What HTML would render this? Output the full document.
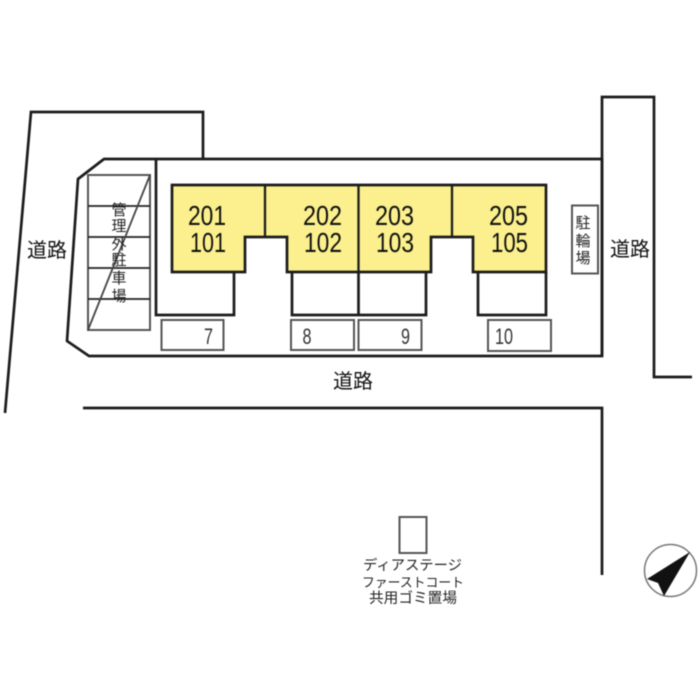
<!DOCTYPE html>
<html lang="ja">
<head>
<meta charset="utf-8">
<style>
html,body{margin:0;padding:0;background:#fff;width:700px;height:700px;overflow:hidden}
svg{display:block;filter:blur(0.4px)}
text{font-family:"Liberation Sans","Noto Sans CJK JP",sans-serif;fill:#222}
.j{font-size:20px;text-anchor:middle;fill:#111}
.k{font-size:15px;text-anchor:middle;fill:#222}
.n{font-size:28px;fill:#111}
.p{font-size:22px;fill:#333}
</style>
</head>
<body>
<svg width="700" height="700" viewBox="0 0 700 700" xmlns="http://www.w3.org/2000/svg">
<g fill="none" stroke="#1c1c1c" stroke-width="2.700">
<polyline points="5,413 31,112 203,112 203,159"/>
<polyline points="602,356 602,97 654,97 654,377 692,377"/>
<polygon points="104,159 602,159 602,356 89,356 67,341 78,179"/>
<polyline points="83,408 602,408 602,575"/>
<polyline points="156,159 156,315 234,315 234,272"/>
<polyline points="292,272 292,315 426,315 426,272"/>
<line x1="358.500" y1="272" x2="358.500" y2="315"/>
<polyline points="478,272 478,315 546,315 546,272"/>
</g>
<polygon points="172,185 546,185 546,272 473,272 473,237 431,237 431,272 287,272 287,237 245,237 245,272 172,272" fill="#fbf08d" stroke="#1c1c1c" stroke-width="2.700"/>
<g stroke="#1c1c1c" stroke-width="2.300" fill="none">
<line x1="265" y1="185" x2="265" y2="237"/>
<line x1="358.500" y1="185" x2="358.500" y2="272"/>
<line x1="452" y1="185" x2="452" y2="237"/>
</g>
<g fill="none" stroke="#555" stroke-width="2">
<rect x="88" y="175" width="62" height="155"/>
<rect x="161.500" y="320" width="62" height="30"/>
<rect x="291" y="320" width="63" height="30"/>
<rect x="358.500" y="320" width="63" height="30"/>
<rect x="488" y="320" width="63" height="31"/>
<rect x="572" y="205.500" width="26" height="68"/>
<rect x="399.500" y="517" width="27" height="36"/>
</g>
<g stroke="#222" stroke-width="1.800">
<line x1="88" y1="206" x2="150" y2="206"/>
<line x1="88" y1="237" x2="150" y2="237"/>
<line x1="88" y1="268" x2="150" y2="268"/>
<line x1="88" y1="299" x2="150" y2="299"/>
<line x1="150" y1="175" x2="88" y2="330" stroke="#444"/>
</g>
<text class="n" x="188" y="225" textLength="38" lengthAdjust="spacingAndGlyphs">201</text>
<text class="n" x="190" y="252" textLength="36" lengthAdjust="spacingAndGlyphs">101</text>
<text class="n" x="303" y="225" textLength="39" lengthAdjust="spacingAndGlyphs">202</text>
<text class="n" x="304" y="252" textLength="38" lengthAdjust="spacingAndGlyphs">102</text>
<text class="n" x="375" y="225" textLength="39" lengthAdjust="spacingAndGlyphs">203</text>
<text class="n" x="376" y="252" textLength="38" lengthAdjust="spacingAndGlyphs">103</text>
<text class="n" x="489" y="225" textLength="39" lengthAdjust="spacingAndGlyphs">205</text>
<text class="n" x="491" y="252" textLength="37" lengthAdjust="spacingAndGlyphs">105</text>
<text class="p" x="204" y="344" textLength="9" lengthAdjust="spacingAndGlyphs">7</text>
<text class="p" x="302.500" y="344" textLength="9" lengthAdjust="spacingAndGlyphs">8</text>
<text class="p" x="401" y="344" textLength="9" lengthAdjust="spacingAndGlyphs">9</text>
<text class="p" x="495" y="344" textLength="18" lengthAdjust="spacingAndGlyphs">10</text>
<text class="j" x="47" y="257">道路</text>
<text class="j" x="630" y="256">道路</text>
<text class="j" x="353" y="388">道路</text>
<text class="k" x="119" y="215">管</text>
<text class="k" x="119" y="231">理</text>
<text class="k" x="119" y="249">外</text>
<text class="k" x="119" y="265">駐</text>
<text class="k" x="119" y="283">車</text>
<text class="k" x="119" y="301">場</text>
<text class="k" x="583" y="228">駐</text>
<text class="k" x="583" y="246">輪</text>
<text class="k" x="583" y="263">場</text>
<text x="363" y="570" style="font-size:14px" textLength="99" lengthAdjust="spacingAndGlyphs">ディアステージ</text>
<text x="362" y="587" style="font-size:13px" textLength="102" lengthAdjust="spacingAndGlyphs">ファーストコート</text>
<text x="369" y="603" style="font-size:14.500px" textLength="88" lengthAdjust="spacingAndGlyphs">共用ゴミ置場</text>
<circle cx="670.500" cy="570.500" r="26" fill="#fff" stroke="#777" stroke-width="1.500"/>
<polygon points="690,552 647,579 658,583 664,596" fill="#111"/>
</svg>
</body>
</html>
